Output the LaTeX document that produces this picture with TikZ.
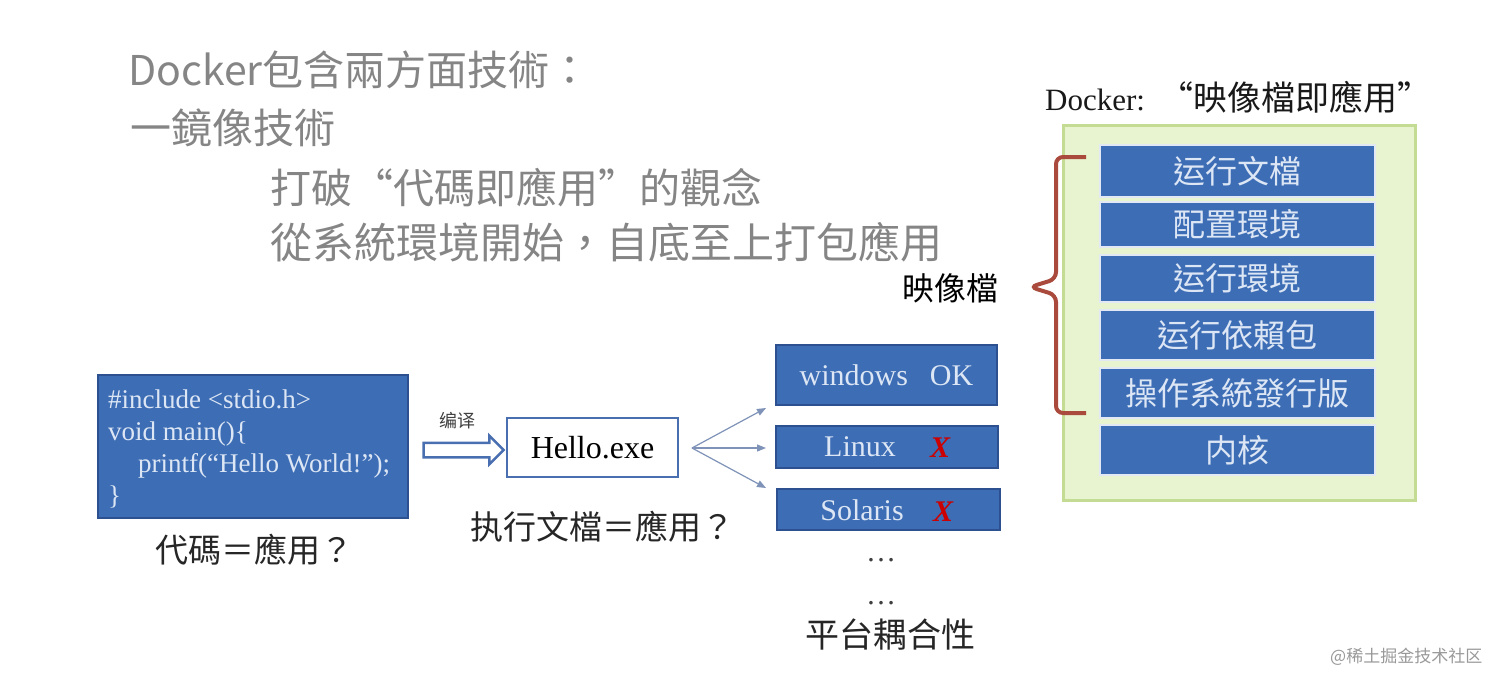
\documentclass[tikz,border=0pt]{standalone}
\usepackage{fontspec}
\setmainfont{Liberation Serif}
\newfontfamily\cjk{Noto Sans CJK TC}
\newfontfamily\cjksc{Noto Sans CJK SC}
\usetikzlibrary{shapes.arrows,arrows.meta}
\definecolor{boxblue}{HTML}{3D6DB5}
\definecolor{boxedge}{HTML}{2D5190}
\definecolor{boxtext}{HTML}{DCE6F4}
\definecolor{titlegray}{HTML}{858585}
\definecolor{greenfill}{HTML}{E8F3CF}
\definecolor{greenedge}{HTML}{C4DB94}
\definecolor{bracketred}{HTML}{A94A3C}
\definecolor{arrowblue}{HTML}{4A6FB0}
\definecolor{fangray}{HTML}{7F93B8}
\tikzset{
  x=1pt, y=-1pt,
  titletext/.style={anchor=west, inner sep=0, text=titlegray, font=\cjk\fontsize{41}{44}\selectfont},
  bluebox/.style={draw=boxedge, line width=1.5pt, fill=boxblue, text=boxtext, inner sep=0},
  stackbox/.style={draw=white!85!boxblue, line width=2pt, fill=boxblue, text=boxtext, inner sep=0,
     minimum width=275, font=\cjk\fontsize{32}{34}\selectfont},
  plattext/.style={font=\fontsize{30}{32}\selectfont},
  caption/.style={inner sep=0, text=black!85, font=\cjk\fontsize{33}{35}\selectfont},
  fanarrow/.style={draw=fangray, line width=1.2pt, -{Triangle[length=9pt,width=7pt]}},
  redx/.style={text=red!80!black, font=\bfseries\itshape\fontsize{30}{32}\selectfont, inner sep=0},
  dotstext/.style={inner sep=0, anchor=base, text=black!75, font=\fontsize{30}{32}\selectfont},
}
\begin{document}
\begin{tikzpicture}
\useasboundingbox (0,0) rectangle (1512,688);
\fill[white] (0,0) rectangle (1512,688);

% headline texts
\node[titletext] (t1) at (128,70) {Docker包含兩方面技術：};
\node[titletext] (t2) at (130,128) {一鏡像技術};
\node[titletext] (t3) at (270,188) {打破“代碼即應用”的觀念};
\node[titletext, font=\cjk\fontsize{42}{44}\selectfont] (t4) at (270,242) {從系統環境開始，自底至上打包應用};

% right: docker image stack
\node[inner sep=0, text=black!90, anchor=west] (dtitle) at (1045,97)
  {\fontsize{31}{33}\selectfont Docker:\hspace{14pt}{\cjk\fontsize{34}{36}\selectfont “映像檔即應用”}};
\node[draw=greenedge, line width=3pt, fill=greenfill, minimum width=352, minimum height=375, inner sep=0]
  (green) at (1239,312.5) {};
\node[stackbox, minimum height=52] (s1) at (1237.5,171) {运行文檔};
\node[stackbox, minimum height=45] (s2) at (1237.5,224.5) {配置環境};
\node[stackbox, minimum height=47] (s3) at (1237.5,278.5) {运行環境};
\node[stackbox, minimum height=50] (s4) at (1237.5,335) {运行依賴包};
\node[stackbox, minimum height=50] (s5) at (1237.5,393) {操作系統發行版};
\node[stackbox, minimum height=50] (s6) at (1237.5,450) {内核};

\coordinate (bt) at (1086,157);
\coordinate (bb) at (1086,413);
\draw[bracketred, line width=4pt, rounded corners=7pt]
  (bt) -- (1056,157) -- (1056,279) -- (1030,287) -- (1056,295) -- (1056,413) -- (bb);
\node[caption, text=black, font=\cjk\fontsize{32}{34}\selectfont] (imglabel) at (950,288) {映像檔};

% code box
\node[bluebox, minimum width=310, minimum height=143] (code) at (253,446.5) {};
\node[anchor=north west, inner sep=0, align=left, text=boxtext,
      font=\fontsize{27}{32}\selectfont] (codetext) at (108,390)
  {\#include <stdio.h>\\ void main()\{\\ \hspace*{30pt}printf(“Hello World!”);\\ \}};
\node[caption] (cap1) at (254,550) {代碼＝應用？};

% compile arrow
\node[single arrow, draw=arrowblue, fill=white, line width=2.5pt, inner sep=6pt,
      single arrow head extend=7pt, minimum height=80, anchor=center] (comp) at (460,450) {};
\node[inner sep=0, text=black!75, font=\cjksc\fontsize{18}{20}\selectfont] (complabel) at (457,421) {编译};

% hello.exe
\node[draw=arrowblue, line width=2.5pt, fill=white, minimum width=171, minimum height=59, inner sep=0,
      font=\fontsize{32}{34}\selectfont] (hello) at (592.5,447.5) {Hello.exe};
\node[caption] (cap2) at (602,527) {执行文檔＝應用？};

% platforms
\node[bluebox, minimum width=221, minimum height=60, plattext] (win) at (886.5,375)
  {windows\hspace{22pt}OK};
\node[bluebox, minimum width=222, minimum height=42] (linux) at (887,447) {};
\node[plattext, text=boxtext, inner sep=0] (linuxt) at (860,447) {Linux};
\node[redx] (x1) at (940,448) {X};
\node[bluebox, minimum width=223, minimum height=41] (sol) at (888.5,509.5) {};
\node[plattext, text=boxtext, inner sep=0] (solt) at (862,510) {Solaris};
\node[redx] (x2) at (943,512) {X};

\coordinate (fan) at (692,448);
\coordinate (e1) at (766,408);
\coordinate (e2) at (766,448);
\coordinate (e3) at (766,488);
\draw[fanarrow] (fan) -- (e1);
\draw[fanarrow] (fan) -- (e2);
\draw[fanarrow] (fan) -- (e3);

\node[dotstext] (dots1) at (881,561) {…};
\node[dotstext] (dots2) at (881,604) {…};
\node[caption, font=\cjk\fontsize{34}{36}\selectfont] (cap3) at (890,635) {平台耦合性};

% watermark
\node[inner sep=0, text=black!40, anchor=west, font=\cjksc\fontsize{17}{19}\selectfont] (wm) at (1330,657)
  {@稀土掘金技术社区};
\end{tikzpicture}
\end{document}
